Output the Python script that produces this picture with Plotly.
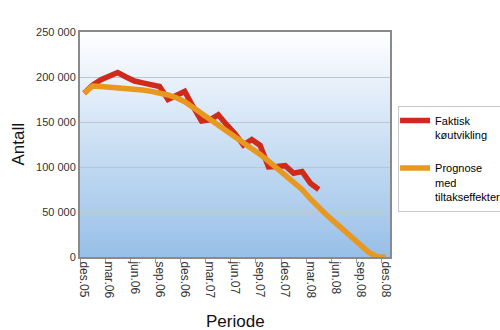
import base64
import plotly.graph_objects as go

months = ["des.05", "jan.06", "feb.06", "mar.06", "apr.06", "mai.06", "jun.06", "jul.06", "aug.06",
          "sep.06", "okt.06", "nov.06", "des.06", "jan.07", "feb.07", "mar.07", "apr.07", "mai.07",
          "jun.07", "jul.07", "aug.07", "sep.07", "okt.07", "nov.07", "des.07", "jan.08", "feb.08",
          "mar.08", "apr.08", "mai.08", "jun.08", "jul.08", "aug.08", "sep.08", "okt.08", "nov.08",
          "des.08"]

faktisk = [182000, 191000, 197000, 201000, 205000, 200000, 195500, 193500, 191500, 189500,
           175000, 179500, 184000, 167000, 151000, 152500, 158000, 147000, 137000, 124500,
           130500, 124000, 100000, 100500, 101500, 93000, 95000, 82000, 75000]

prognose = [182000, 190000, 189500, 189000, 188500, 188000, 187000, 185500, 184000, 182500,
            180000, 177000, 172500, 166000, 159500, 153000, 147000, 141000, 134500, 127500,
            121000, 114000, 106500, 98500, 91000, 84000, 75000, 64500, 54500, 46000,
            38000, 30000, 22000, 13500, 5000, 0, 0]

y_ticks = [0, 50000, 100000, 150000, 200000, 250000]
y_ticktext = ["0", "50 000", "100 000", "150 000", "200 000", "250 000"]

x_idx = list(range(len(months)))
tick_idx = x_idx[::3]
tick_text = months[::3]

svg = ('<svg xmlns="http://www.w3.org/2000/svg" width="100" height="100" preserveAspectRatio="none">'
       '<defs><linearGradient id="g" x1="0" y1="0" x2="0" y2="1">'
       '<stop offset="0" stop-color="#ffffff"/><stop offset="1" stop-color="#97bfe8"/>'
       '</linearGradient></defs><rect width="100" height="100" fill="url(#g)"/></svg>')
bg = "data:image/svg+xml;base64," + base64.b64encode(svg.encode()).decode()

fig = go.Figure()
fig.add_trace(go.Scatter(x=x_idx[:len(faktisk)], y=faktisk, mode="lines",
                         name="Faktisk<br>køutvikling", legendgroup="a",
                         line=dict(color="#d02a1c", width=5.5)))
fig.add_trace(go.Scatter(x=x_idx[:len(prognose)], y=prognose, mode="lines",
                         name="Prognose<br>med<br>tiltakseffekter", legendgroup="b",
                         line=dict(color="#e8981e", width=5.5)))

font = "Liberation Sans, Arial, sans-serif"
fig.update_layout(
    width=500, height=330,
    margin=dict(l=80, r=110, t=32, b=73, autoexpand=False),
    paper_bgcolor="white",
    plot_bgcolor="rgba(0,0,0,0)",
    font=dict(family=font, size=11, color="#222"),
    showlegend=True,
    legend=dict(x=1.026, y=0.672, xanchor="left", yanchor="top",
                bordercolor="#c8c8c8", borderwidth=1, bgcolor="white",
                font=dict(size=11, color="#000"), valign="top", indentation=-4,
                tracegroupgap=16, itemwidth=30, traceorder="grouped"),
    images=[dict(source=bg, xref="x domain", yref="y domain", x=0, y=1,
                 sizex=1, sizey=1, sizing="stretch", layer="below", xanchor="left", yanchor="top")],
    xaxis=dict(range=[-0.5, len(months) - 0.5], tickmode="array", tickvals=tick_idx,
               ticktext=tick_text, tickangle=90, ticks="", showgrid=False, zeroline=False,
               showline=True, linecolor="#8a8a8a", linewidth=2, mirror=True,
               tickfont=dict(size=12, color="#333"),
               minor=dict(tickmode="array", tickvals=[i - 0.5 for i in tick_idx],
                          ticks="outside", ticklen=4, tickcolor="#999", tickwidth=1, showgrid=False)),
    yaxis=dict(range=[0, 250000], tickmode="array", tickvals=y_ticks, ticktext=y_ticktext,
               ticks="", showgrid=True, gridcolor="#bcc6d0", gridwidth=1, zeroline=False,
               showline=True, linecolor="#8a8a8a", linewidth=2, mirror=True,
               tickfont=dict(size=11, color="#333")),
    annotations=[
        dict(text="Antall", xref="paper", yref="paper", x=-0.2, y=0.5, textangle=-90,
             showarrow=False, font=dict(size=17, color="#111"), xanchor="center", yanchor="middle"),
        dict(text="Periode", xref="paper", yref="paper", x=0.5, y=-0.285, showarrow=False,
             font=dict(size=17, color="#111"), xanchor="center", yanchor="middle"),
    ],
)

fig.write_html("out.html")
